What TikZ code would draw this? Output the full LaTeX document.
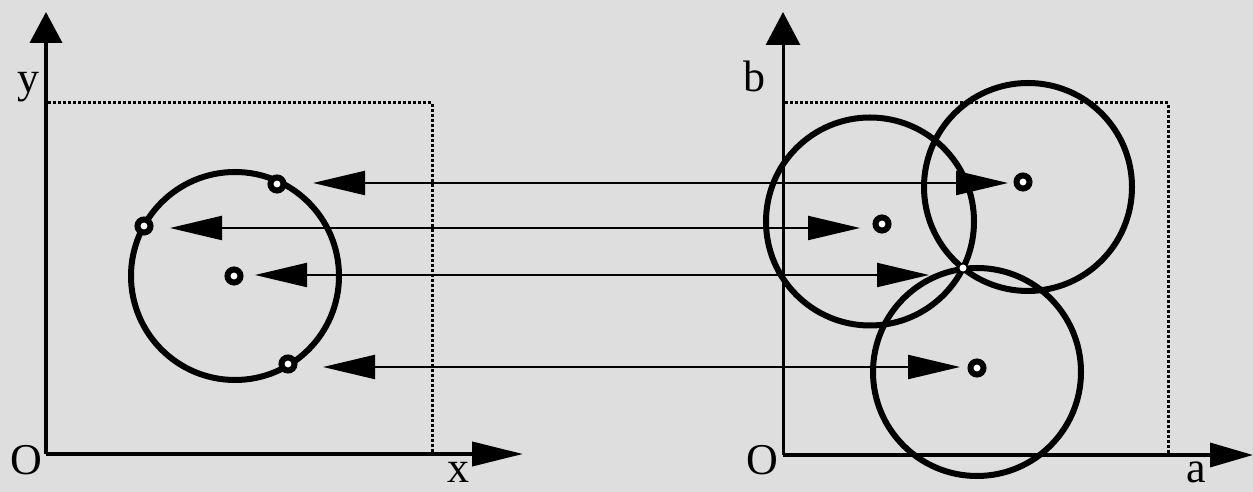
\documentclass[tikz,border=0pt]{standalone}
\usepackage{fontspec}
\setmainfont{Liberation Serif}
\usetikzlibrary{arrows.meta}
\definecolor{marble}{RGB}{222,222,222}

\begin{document}
\begin{tikzpicture}[
  x=1pt, y=1pt,
  axis/.style={line width=4pt},
  frame/.style={line width=3pt, dash pattern=on 3pt off 2pt},
  ring/.style={line width=6pt},
  dot/.style={circle, draw, line width=6pt, fill=white, inner sep=0pt,
              minimum size=13pt},
  spot/.style={circle, fill=white, inner sep=0pt, minimum size=7pt},
  lbl/.style={font=\fontsize{44}{48}\selectfont, inner sep=0pt, anchor=base},
  harr/.style={line width=2.2pt,
               {Triangle[length=52pt, width=24pt]}-{Triangle[length=52pt, width=24pt]}}
]
\useasboundingbox (0,0) rectangle (1253,492);
\fill[marble] (0,0) rectangle (1253,492);

% Image space (x,y)
\coordinate (O1) at (46,38);
\coordinate (ytip) at (46,480);
\coordinate (xtip) at (523,38);
\draw[axis, -{Triangle[length=31pt, width=32pt]}] (O1) -- (ytip);
\draw[axis, -{Triangle[length=51pt, width=24pt]}] (O1) -- (xtip);
\draw[frame] (48,389) -- (432,389) -- (432,38);
\node[lbl] (ylbl) at (28,399) {y};
\node[lbl] (o1lbl) at (26,17) {O};
\node[lbl] (xlbl) at (458,9) {x};

\draw[ring] (235,216) circle[radius=104];
\node[dot] (P0) at (234,216) {};
\node[dot] (P1) at (277,308) {};
\node[dot] (P2) at (144,266) {};
\node[dot] (P3) at (288,128) {};

% Parameter space (a,b)
\coordinate (O2) at (783,37);
\coordinate (btip) at (783,480);
\coordinate (atip) at (1253,37);
\draw[axis, line width=3pt, -{Triangle[length=33pt, width=34pt]}] (O2) -- (btip);
\draw[axis, line width=3.5pt, -{Triangle[length=43pt, width=24pt]}] (O2) -- (atip);
\draw[frame] (785,389) -- (1168,389) -- (1168,37);
\node[lbl] (blbl) at (754,400) {b};
\node[lbl] (o2lbl) at (762,17) {O};
\node[lbl] (albl) at (1196,9) {a};

\draw[ring] (870,270.5) circle[radius=104];
\draw[ring] (1028,305) circle[radius=104];
\draw[ring] (977,120) circle[radius=104];
\node[dot] (Q1) at (1023,310) {};
\node[dot] (Q2) at (882,268) {};
\node[spot] (Q3) at (963,224) {};
\node[dot] (Q4) at (977,124) {};

% Mapping arrows
\coordinate (l1) at (313,309); \coordinate (r1) at (1008,309);
\coordinate (l2) at (170,264); \coordinate (r2) at (860,264);
\coordinate (l3) at (255,217); \coordinate (r3) at (929,217);
\coordinate (l4) at (323,125); \coordinate (r4) at (960,125);
\draw[harr] (l1) -- (r1);
\draw[harr] (l2) -- (r2);
\draw[harr] (l3) -- (r3);
\draw[harr] (l4) -- (r4);
\end{tikzpicture}
\end{document}
